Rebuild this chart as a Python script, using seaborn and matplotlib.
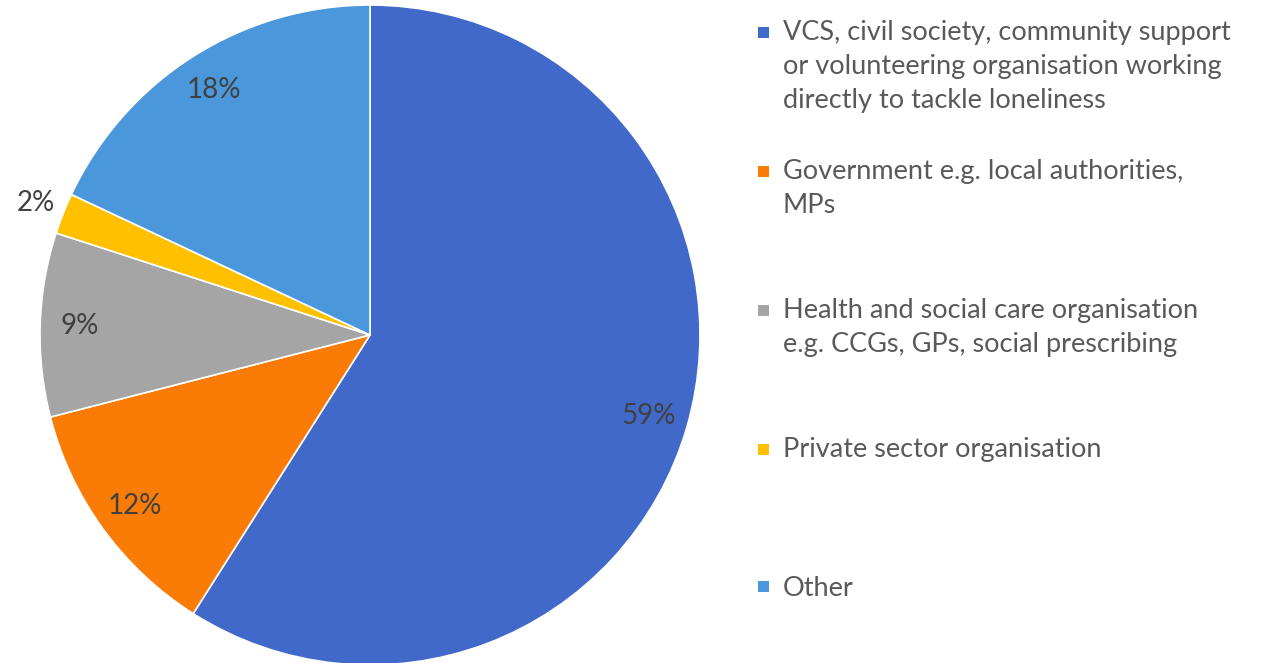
import matplotlib
matplotlib.use("Agg")
import matplotlib.pyplot as plt
from matplotlib.patches import Rectangle
from matplotlib.legend_handler import HandlerPatch
import seaborn as sns
import numpy as np

categories = [
    "VCS, civil society, community support\nor volunteering organisation working\ndirectly to tackle loneliness",
    "Government e.g. local authorities,\nMPs",
    "Health and social care organisation\ne.g. CCGs, GPs, social prescribing",
    "Private sector organisation",
    "Other",
]
values = [59, 12, 9, 2, 18]
colors = ["#4169C9", "#FA7B05", "#A5A5A5", "#FFC000", "#4A98DB"]

sns.set_theme(style="white")
plt.rcParams['font.family'] = ['Lato', 'DejaVu Sans']

fig = plt.figure(figsize=(12.66, 6.63), dpi=100)
ax = fig.add_axes([40/1266, -2/663, 660/1266, 660/663])

wedges, texts, autotexts = ax.pie(
    values, colors=colors, startangle=90, counterclock=False,
    autopct=lambda p: f"{p:.0f}%", pctdistance=0.88, radius=1.0,
    wedgeprops=dict(edgecolor="white", linewidth=1.2),
    textprops=dict(fontsize=20, color="#404040"),
)
# small slice label sits outside the pie
for w, t, v in zip(wedges, autotexts, values):
    if v < 5:
        ang = np.deg2rad((w.theta1 + w.theta2) / 2)
        t.set_position((1.09 * np.cos(ang), 1.09 * np.sin(ang)))
ax.set_xlim(-1, 1)
ax.set_ylim(-1, 1)
ax.set_aspect("equal")
ax.axis("off")

# legend entries get equal 3-line slots (last one needs none), marker on first line
NL = 3
FS = 19.5
padded = [c + "\n " * (NL - 1 - c.count("\n")) for c in categories[:-1]] + [categories[-1]]
line_h = 34 * 72 / 100  # points between text lines


def make_handler(nlines):
    def top_square(legend, orig_handle, xdescent, ydescent, width, height, fontsize):
        s = 0.42 * fontsize
        y0 = -ydescent + height / 2 - s / 2 + (nlines - 1) / 2 * line_h
        return Rectangle((-xdescent, y0), s, s)
    return HandlerPatch(patch_func=top_square)


leg = fig.legend(
    wedges, padded, loc="upper left", bbox_to_anchor=(747/1266, 1 - 9/663),
    frameon=False, fontsize=FS, labelcolor="#595959",
    handlelength=0.42, handleheight=0.42, handletextpad=0.5,
    labelspacing=1.7, borderaxespad=0,
    handler_map={w: make_handler(lab.count("\n") + 1) for w, lab in zip(wedges, padded)},
)
for t in leg.get_texts():
    t.set_linespacing(1.45)
for h in leg.legend_handles:
    h.set_edgecolor("none")

fig.savefig("out.png", dpi=100)
